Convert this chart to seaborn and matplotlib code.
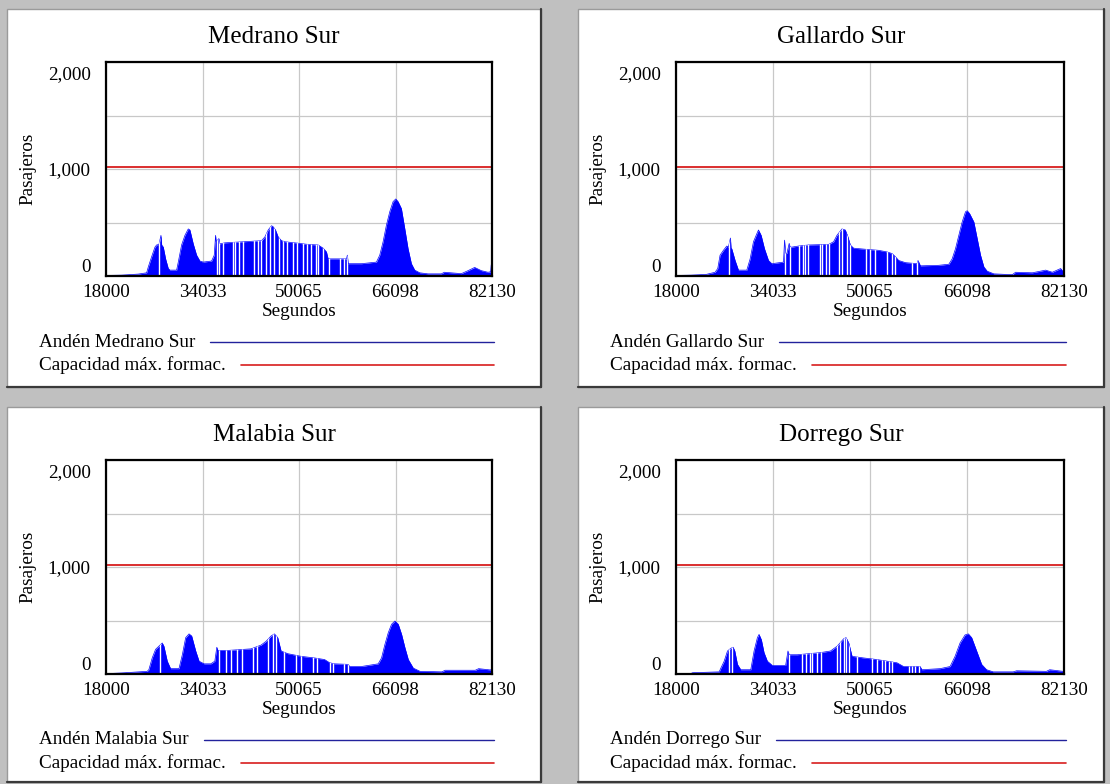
import matplotlib
matplotlib.use("Agg")
import matplotlib.pyplot as plt
import matplotlib.transforms as mtransforms
from matplotlib.patches import Rectangle
from matplotlib.lines import Line2D
import seaborn as sns

# ---------------------------------------------------------------- data
TITLES = ["Medrano Sur", "Gallardo Sur", "Malabia Sur", "Dorrego Sur"]
SERIES_LABELS = ["Andén Medrano Sur", "Andén Gallardo Sur",
                 "Andén Malabia Sur", "Andén Dorrego Sur"]
CAPACITY_LABEL = "Capacidad máx. formac."
CAPACITY = 1020
X_LABEL = "Segundos"
Y_LABEL = "Pasajeros"
X_TICKS = [18000, 34033, 50065, 66098, 82130]
Y_TICKS = [0, 500, 1000, 1500, 2000]
Y_TICK_LABELS = ["0", "", "1,000", "", "2,000"]

# Passengers waiting on each platform (time in seconds, passengers)
medrano_t = [18000, 20600, 23367, 24750, 25027, 25580, 26134, 26410, 26798,
             27130, 27250, 27517, 27904, 28347, 28623, 29730, 30007, 30560,
             31113, 31667, 31943, 32496, 33050, 33603, 34156, 35540, 35982,
             36203, 36300, 36757, 36900, 37753, 43839, 44392, 44946, 45500,
             45776, 46163, 46606, 47159, 47713, 49373, 51586, 53246, 54076,
             54629, 54906, 57949, 58100, 58225, 60438, 62928, 63481, 64035,
             64588, 65141, 65695, 66137, 66525, 67078, 67631, 68185, 68738,
             69291, 70121, 71504, 73717, 74200, 77037, 78143, 79250, 80356,
             81463, 81900, 82000, 82130]
medrano_v = [5, 8, 18, 30, 85, 180, 270, 290, 295,
             380, 290, 270, 160, 70, 55, 55, 130, 290,
             380, 440, 430, 300, 195, 140, 130, 140, 195,
             380, 320, 350, 300, 310, 330, 365, 430, 470,
             460, 430, 365, 330, 320, 310, 295, 290, 260,
             225, 160, 160, 195, 115, 115, 130, 195, 320,
             475, 600, 695, 720, 695, 630, 445, 255, 115,
             55, 30, 20, 20, 35, 22, 50, 80, 50,
             35, 40, 105, 105]
medrano_gaps = [26860, 36490, 36770, 37380, 39040, 39430, 40140, 40700,
                42580, 43250, 43750, 44580, 45240, 45900, 46790, 47450,
                48120, 49010, 49670, 50670, 51440, 52100, 52830, 53270,
                53990, 55100, 56850, 57580, 57980]

gallardo_t = [18000, 20500, 23000, 24457, 24899, 25285, 25837, 26389, 26665,
              26996, 27100, 27217, 27769, 28321, 29700, 30252, 30804, 31356,
              31632, 32073, 32625, 33288, 33840, 35771, 35937, 36100, 36323,
              36709, 36850, 37151, 38255, 39910, 43222, 44050, 44602, 45429,
              45981, 46423, 46809, 47361, 49293, 51500, 52880, 53708, 54260,
              54812, 55915, 57847, 58000, 58399, 61435, 63090, 63642, 64194,
              64746, 65298, 65850, 66126, 66512, 67229, 67781, 68333, 68885,
              69437, 70541, 73576, 74128, 76888, 79095, 80199, 81579, 82000,
              82130]
gallardo_v = [5, 8, 15, 35, 70, 195, 240, 280, 270,
              355, 260, 255, 145, 55, 55, 160, 320, 395,
              430, 380, 255, 145, 115, 130, 335, 210, 210,
              305, 270, 270, 280, 290, 295, 320, 380, 440,
              430, 365, 290, 260, 250, 240, 225, 210, 180,
              145, 125, 115, 145, 95, 100, 110, 160, 255,
              380, 505, 600, 610, 585, 505, 350, 195, 85,
              45, 20, 12, 35, 30, 55, 35, 70, 40,
              75]
gallardo_gaps = [26830, 36047, 36875, 38255, 38917, 39359, 39800, 41732,
                 42118, 42780, 43332, 44988, 45429, 46257, 46809, 49458,
                 50121, 50949, 52880, 53708, 54260, 57019, 57847]

malabia_t = [18000, 20670, 24841, 25119, 25676, 26232, 26788, 27344, 27622,
             28178, 28735, 30125, 30681, 31238, 31794, 32239, 32906, 33462,
             34297, 35409, 36077, 36410, 36600, 38190, 42083, 43752, 44586,
             45421, 45977, 46533, 47089, 48202, 50426, 52651, 54320, 55154,
             55989, 58213, 58492, 60438, 63219, 63775, 64331, 64888, 65444,
             66000, 66556, 67112, 67669, 68225, 69059, 70172, 73787, 74343,
             79349, 79905, 81852, 82130]
malabia_v = [3, 10, 25, 40, 150, 230, 260, 290, 260,
             120, 50, 50, 180, 340, 375, 355, 215, 120,
             95, 95, 120, 250, 220, 220, 235, 270, 305,
             355, 375, 340, 215, 190, 165, 150, 135, 105,
             95, 90, 70, 70, 95, 150, 275, 385, 465,
             495, 465, 370, 245, 135, 55, 25, 20, 35,
             35, 50, 38, 45]
malabia_gaps = [26955, 36800, 37912, 38746, 39747, 40582, 42362, 43085,
                44864, 45699, 46255, 47645, 49592, 50426, 52373, 53096,
                55154, 55710, 57546, 58213]

dorrego_t = [18000, 20471, 20746, 25138, 25413, 25962, 26511, 27060, 27445,
             27719, 28158, 28707, 30355, 30904, 31453, 31728, 32112, 32551,
             33100, 33924, 36120, 36505, 36700, 38042, 41886, 43533, 44631,
             45730, 46114, 46553, 47102, 49024, 51221, 53417, 54515, 55613,
             58359, 58633, 61653, 63301, 64124, 64948, 65772, 66321, 66870,
             67694, 68518, 69341, 70439, 73734, 74283, 79225, 79774, 81970,
             82130]
dorrego_v = [3, 5, 12, 20, 55, 120, 215, 240, 250,
             215, 90, 40, 40, 215, 340, 370, 320, 200,
             120, 80, 80, 215, 180, 180, 200, 215, 260,
             330, 340, 290, 165, 150, 135, 115, 105, 70,
             70, 40, 50, 70, 165, 290, 365, 375, 340,
             215, 90, 40, 20, 20, 30, 25, 40, 25,
             30]
dorrego_gaps = [26786, 27225, 36669, 38866, 39415, 40074, 40513, 41337,
                41886, 44631, 45180, 45730, 46169, 46553, 47926, 50397,
                51221, 52044, 52593, 53142, 53692, 56437, 56986, 57535,
                58084]

SERIES = [(medrano_t, medrano_v, medrano_gaps),
          (gallardo_t, gallardo_v, gallardo_gaps),
          (malabia_t, malabia_v, malabia_gaps),
          (dorrego_t, dorrego_v, dorrego_gaps)]

# ---------------------------------------------------------------- style
sns.set_theme(style="white")
plt.rcParams["font.family"] = ["Liberation Serif", "DejaVu Serif"]

BG = "#c0c0c0"
FILL = "#0000ff"
RED = "#d81e1e"
LEGEND_BLUE = "#22229c"
GRID = "#c8c8c8"
FS = 13.8

W, H = 1110, 784
fig = plt.figure(figsize=(W / 100, H / 100), dpi=100, facecolor=BG)


def fx(px):
    return px / W


def fy(py):
    return 1 - py / H


# panel frames and plot boxes, in pixel coordinates (left, right / top, bottom)
PANEL_X = [(7, 541), (578, 1104)]
PANEL_Y = [(9, 387), (407, 782)]
AX_X = [(106, 492), (676, 1064)]
AX_Y = [(62, 276), (460, 674)]
TITLE_Y = [37, 435]
LEGEND_Y = [(342, 365), (740, 763)]
LEGEND_X0 = [39, 610]
LEGEND_X1 = [494, 1066]

renderer = fig.canvas.get_renderer()

for i, (title, label, (t, v, gaps)) in enumerate(zip(TITLES, SERIES_LABELS, SERIES)):
    r, c = divmod(i, 2)
    px0, px1 = PANEL_X[c]
    py0, py1 = PANEL_Y[r]

    # panel background with a bevelled frame
    fig.add_artist(Rectangle((fx(px0), fy(py1)), (px1 - px0) / W, (py1 - py0) / H,
                             transform=fig.transFigure, facecolor="white",
                             edgecolor="#9a9a9a", lw=1.0, zorder=0))
    fig.add_artist(Line2D([fx(px1), fx(px1)], [fy(py0), fy(py1)],
                          transform=fig.transFigure, color="#3a3a3a", lw=1.6, zorder=0.5))
    fig.add_artist(Line2D([fx(px0), fx(px1)], [fy(py1), fy(py1)],
                          transform=fig.transFigure, color="#3a3a3a", lw=1.6, zorder=0.5))

    # plot box
    ax0, ax1 = AX_X[c]
    ay0, ay1 = AX_Y[r]
    ax = fig.add_axes([fx(ax0), fy(ay1), (ax1 - ax0) / W, (ay1 - ay0) / H])
    ax.set_facecolor("white")

    poly = ax.fill_between(t, 0, v, color=FILL, lw=0, zorder=1)
    sns.lineplot(x=t, y=v, ax=ax, color=FILL, lw=0.5, sort=False,
                 estimator=None, zorder=1.2)
    gap_lines = ax.vlines(gaps, 0, max(v), color="white", lw=1.0, zorder=1.5)
    gap_lines.set_clip_path(poly.get_paths()[0], ax.transData)

    sns.lineplot(x=[X_TICKS[0], X_TICKS[-1]], y=[CAPACITY, CAPACITY], ax=ax,
                 color=RED, lw=1.3, zorder=3)

    ax.set_xlim(X_TICKS[0], X_TICKS[-1])
    ax.set_ylim(Y_TICKS[0], Y_TICKS[-1])
    ax.set_xticks(X_TICKS, [str(x) for x in X_TICKS])
    ax.set_yticks(Y_TICKS, Y_TICK_LABELS)
    ax.set_axisbelow(True)
    ax.grid(True, color=GRID, lw=0.9)
    ax.tick_params(axis="both", length=0, labelsize=FS, colors="black")
    ax.tick_params(axis="x", pad=6)
    ax.tick_params(axis="y", pad=11)
    ylabels = ax.get_yticklabels()
    ylabels[0].set_va("bottom")
    ylabels[-1].set_va("top")
    ylabels[-1].set_transform(ylabels[-1].get_transform() +
                              mtransforms.ScaledTranslation(0, -3 / 72, fig.dpi_scale_trans))

    for s in ax.spines.values():
        s.set_color("black")
        s.set_linewidth(1.6)
        s.set_zorder(5)

    ax.set_xlabel(X_LABEL, fontsize=FS, labelpad=1, color="black")
    ax.set_ylabel(Y_LABEL, fontsize=FS, labelpad=8, color="black")

    # title
    fig.text(fx((px0 + px1) / 2), fy(TITLE_Y[r]), title, ha="center",
             va="center", fontsize=18, color="black")

    # legend: label text followed by a line sample running to the right edge
    for text, color, lw, yy in [(label, LEGEND_BLUE, 1.0, LEGEND_Y[r][0]),
                                (CAPACITY_LABEL, RED, 1.2, LEGEND_Y[r][1])]:
        txt = fig.text(fx(LEGEND_X0[c]), fy(yy), text, ha="left", va="center",
                       fontsize=FS, color="black")
        bb = txt.get_window_extent(renderer)
        fig.add_artist(Line2D([(bb.x1 + 15) / W, fx(LEGEND_X1[c])], [fy(yy), fy(yy)],
                              transform=fig.transFigure, color=color, lw=lw))

fig.savefig("out.png", dpi=100, facecolor=fig.get_facecolor())
